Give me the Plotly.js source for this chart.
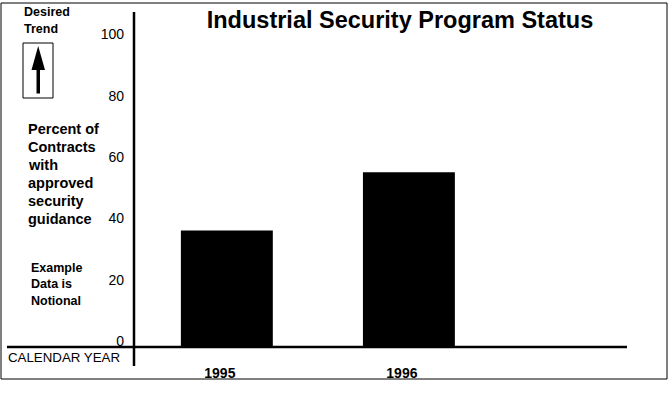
<!DOCTYPE html>
<html>
<head>
<meta charset="utf-8">
<script src="https://cdn.plot.ly/plotly-3.0.1.min.js"></script>
<style>html,body{margin:0;padding:0;background:#fff;}#chart{width:668px;height:414px;}</style>
</head>
<body>
<div id="chart"></div>
<script>
// Data
const years = ['1995', '1996'];
const percentApproved = [38, 57];
const yTickValues = [0, 20, 40, 60, 80, 100];

// Geometry helpers (pixel -> paper)
const W = 668, H = 414, L = 134, R = 627, T = 12, B = 347;
const px = x => (x - L) / (R - L);
const py = y => (B - y) / (B - T);
const FONT = 'Liberation Sans, Arial, sans-serif';

const shapes = [
  // outer frame
  {type: 'rect', xref: 'paper', yref: 'paper', x0: px(1), x1: px(667), y0: py(379), y1: py(3),
   line: {color: '#000', width: 1}, fillcolor: 'rgba(0,0,0,0)'},
  // horizontal axis line
  {type: 'line', xref: 'paper', yref: 'paper', x0: px(7), x1: px(627), y0: py(347), y1: py(347),
   line: {color: '#000', width: 2.5}},
  // vertical axis line
  {type: 'line', xref: 'paper', yref: 'paper', x0: px(134), x1: px(134), y0: py(366), y1: py(12),
   line: {color: '#000', width: 2.5}},
  // arrow box
  {type: 'rect', xref: 'paper', yref: 'paper', x0: px(23), x1: px(53), y0: py(98), y1: py(43),
   line: {color: '#000', width: 1}, fillcolor: 'rgba(0,0,0,0)'},
  // arrow shaft
  {type: 'rect', xref: 'paper', yref: 'paper', x0: px(36.5), x1: px(40), y0: py(93.5), y1: py(68),
   line: {width: 0}, fillcolor: '#000'},
  // arrow head
  {type: 'path', xref: 'paper', yref: 'paper',
   path: `M ${px(38.2)} ${py(46)} L ${px(45)} ${py(70)} L ${px(31.5)} ${py(70)} Z`,
   line: {width: 0}, fillcolor: '#000'}
];

function ann(text, x, y, size, bold) {
  return {text: text, xref: 'paper', yref: 'paper', x: px(x), y: py(y),
    xanchor: 'left', yanchor: 'middle', showarrow: false,
    font: {family: FONT, size: size, color: '#000', weight: bold ? 700 : 400}};
}

const annotations = [
  ann('Desired', 22, 12.5, 12.5, true),
  ann('Trend', 22, 28.5, 12.5, true),
  ann('Percent of', 26, 128.5, 14.5, true),
  ann('Contracts', 26, 146.5, 14.5, true),
  ann('with', 26, 164.5, 14.5, true),
  ann('approved', 26, 182.5, 14.5, true),
  ann('security', 26, 200.5, 14.5, true),
  ann('guidance', 26, 218.5, 14.5, true),
  ann('Example', 29, 267.5, 12.5, true),
  ann('Data is', 29, 284, 12.5, true),
  ann('Notional', 29, 301, 12.5, true),
  ann('CALENDAR YEAR', 6, 357, 13.3, false)
];

const trace = {
  type: 'bar', x: years, y: percentApproved,
  width: 0.505,
  marker: {color: '#000', line: {width: 0}},
  hoverinfo: 'skip'
};

const layout = {
  width: W, height: H,
  margin: {l: L, r: W - R, t: T, b: H - B, pad: 0},
  paper_bgcolor: '#fff', plot_bgcolor: 'rgba(0,0,0,0)',
  showlegend: false,
  title: {text: 'Industrial Security Program Status', x: 400 / W, xanchor: 'center',
    y: 1 - 20 / H, yanchor: 'middle', yref: 'container',
    font: {family: FONT, size: 23.5, color: '#000', weight: 700}},
  xaxis: {type: 'category', range: [-0.51, 2.198], showline: false, showgrid: false,
    zeroline: false, ticks: '', ticklabelstandoff: 16, ticklabelshift: -7,
    tickfont: {family: FONT, size: 14, color: '#000', weight: 700}, fixedrange: true},
  yaxis: {range: [0, 109.3], tickvals: yTickValues, showline: false, showgrid: false,
    zeroline: false, ticks: '', ticklabelstandoff: 9, ticklabelshift: -6,
    tickfont: {family: FONT, size: 14, color: '#000'}, fixedrange: true},
  shapes: shapes,
  annotations: annotations,
  bargap: 0.5
};

Plotly.newPlot('chart', [trace], layout, {displayModeBar: false, staticPlot: true});
</script>
</body>
</html>
